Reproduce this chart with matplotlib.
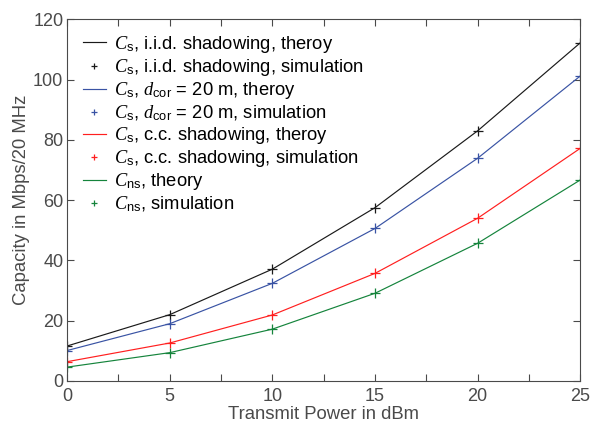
import numpy as np
import matplotlib
matplotlib.use('Agg')
import matplotlib.pyplot as plt

# Данные
power_dbm = [0, 5, 10, 15, 20, 25]

cs_iid_theory = [11.6, 22.0, 37.1, 57.5, 83.0, 112.2]
cs_iid_sim = [11.6, 22.0, 37.1, 57.5, 83.0, 112.2]
cs_dcor_theory = [10.1, 19.0, 32.4, 50.6, 73.9, 101.2]
cs_dcor_sim = [10.1, 19.0, 32.4, 50.6, 73.9, 101.2]
cs_cc_theory = [6.4, 12.6, 21.9, 35.7, 54.0, 77.2]
cs_cc_sim = [6.4, 12.6, 21.9, 35.7, 54.0, 77.2]
cns_theory = [4.6, 9.4, 17.2, 29.1, 45.7, 66.7]
cns_sim = [4.6, 9.4, 17.2, 29.1, 45.7, 66.7]

# Шрифты: C курсивом с засечками, индексы без засечек
plt.rcParams['font.family'] = ['Liberation Sans', 'DejaVu Sans']
plt.rcParams['mathtext.fontset'] = 'custom'
plt.rcParams['mathtext.it'] = 'Liberation Serif:italic'
plt.rcParams['mathtext.rm'] = 'Liberation Sans'

gray = '#4a4a4a'
c_black = '#1a1a1a'
c_blue = '#3953a4'
c_red = '#ff1f1f'
c_green = '#15843c'

fig = plt.figure(figsize=(5.93, 4.23), dpi=100)
ax = fig.add_axes([0.113, 0.0993, 0.8656, 0.8551])

series = [
    (cs_iid_theory, cs_iid_sim, c_black, r'$C_\mathrm{s}$, i.i.d. shadowing'),
    (cs_dcor_theory, cs_dcor_sim, c_blue, r'$C_\mathrm{s}$, $d_\mathrm{cor}$ = 20 m'),
    (cs_cc_theory, cs_cc_sim, c_red, r'$C_\mathrm{s}$, c.c. shadowing'),
]
for th, sim, col, lab in series:
    ax.plot(power_dbm, th, color=col, lw=0.85, label=lab + ', theroy')
    ax.plot(power_dbm, sim, '+', color=col, ms=6.5, mew=0.9, label=lab + ', simulation')
ax.plot(power_dbm, cns_theory, color=c_green, lw=0.85, label=r'$C_\mathrm{ns}$, theory')
ax.plot(power_dbm, cns_sim, '+', color=c_green, ms=6.5, mew=0.9, label=r'$C_\mathrm{ns}$, simulation')

ax.set_xlim(0, 25)
ax.set_ylim(0, 120)
ax.set_xticks([0, 5, 10, 15, 20, 25])
ax.set_xticks(np.arange(0, 25.1, 2.5), minor=True)
ax.set_yticks([0, 20, 40, 60, 80, 100, 120])
ax.tick_params(which='both', direction='in', top=True, right=True, colors=gray,
               labelsize=13, length=5, width=0.8)
ax.tick_params(axis='x', pad=5)
ax.tick_params(axis='y', pad=2.7)
for sp in ax.spines.values():
    sp.set_color(gray)
    sp.set_linewidth(0.8)

ax.set_xlabel('Transmit Power in dBm', fontsize=13.3, color=gray, labelpad=1)
ax.set_ylabel('Capacity in Mbps/20 MHz', fontsize=13.3, color=gray, labelpad=2)

leg = ax.legend(loc='upper left', frameon=False, fontsize=13.2, handlelength=1.25,
                handletextpad=0.45, labelspacing=0.12, borderpad=0,
                borderaxespad=0, markerscale=0.75,
                bbox_to_anchor=(16 / 513, 1 - 14.5 / 362))

fig.savefig('out.png', dpi=100)
